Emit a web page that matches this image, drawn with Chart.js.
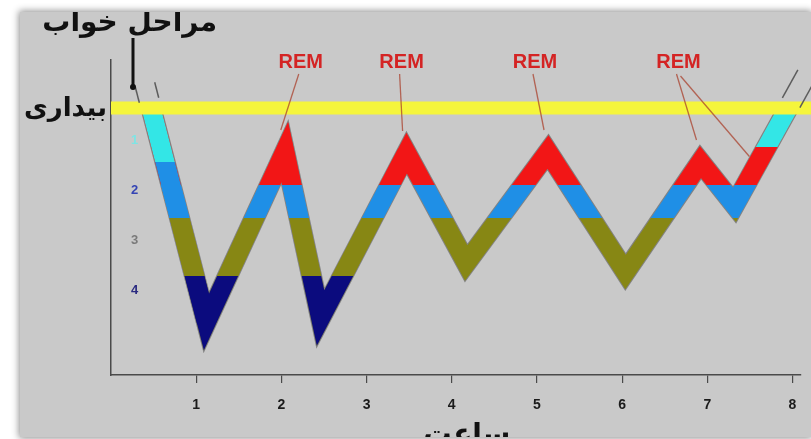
<!DOCTYPE html>
<html>
<head>
<meta charset="utf-8">
<script src="https://cdn.jsdelivr.net/npm/chart.js@4.4.1/dist/chart.umd.min.js"></script>
<style>
  html, body { margin: 0; padding: 0; background: #fff; width: 811px; height: 439px; overflow: hidden; }
  #panel {
    position: absolute; left: 20px; top: 12px; width: 791px; height: 425px;
    background: #c9c9c9; overflow: hidden;
    box-shadow: 0 0 7px 1px rgba(0, 0, 0, 0.45);
  }
  #chartBox { position: absolute; left: -20px; top: -12px; width: 811px; height: 439px; }
</style>
</head>
<body>
<div id="panel"><div id="chartBox"><canvas id="hypno" width="811" height="439"></canvas></div></div>
<script>
/* ==============================
   DATA
============================== */
const hours  = [0.47, 1.12, 2.04, 2.46, 3.47, 4.17, 5.13, 6.04, 6.92, 7.32, 7.95];
const stages = [0.36, 4.64, 1.24, 4.56, 1.26, 3.46, 1.24, 3.64, 1.44, 2.30, 0.36];
const awakeLevel = 0.36;

const hourTicks = [1, 2, 3, 4, 5, 6, 7, 8];
const stageTicks = [1, 2, 3, 4];
const stageTickLabels = ["1", "2", "3", "4"];

const remPeaks = [2, 4, 6, 8];   // index of each REM peak in hours/stages
const remText = "REM";
const deepEnd = 4;               // stage 4 only reached in the first two cycles

// stage borders (top -> bottom) for each piece of the curve
const sleepCuts = [1.9, 2.56];
const deepCuts  = [1.9, 2.56, 3.72];
const onsetCuts = [1.44, 2.56, 3.72];
const wakeCuts  = [1.14, 1.9];

/* ==============================
   COLOURS
============================== */
const RED = "#f21616", BLUE = "#1f8fe6", OLIVE = "#878714", NAVY = "#0b0b7e", CYAN = "#33e6e6";
const sleepColors = [RED, BLUE, OLIVE];
const deepColors  = [RED, BLUE, OLIVE, NAVY];
const onsetColors = [CYAN, BLUE, OLIVE, NAVY];
const wakeColors  = [CYAN, RED, BLUE];
const stageTickColors = ["#7ee4e4", "#3444b4", "#7a7a7a", "#2a2a80"];

function bandGradient(chart, cuts, colors) {
  const y = chart.scales.y;
  if (!chart.chartArea || !y) return colors[0];
  const h = chart.height;
  const g = chart.ctx.createLinearGradient(0, 0, 0, h);
  g.addColorStop(0, colors[0]);
  cuts.forEach((c, i) => {
    const p = Math.min(1, Math.max(0, y.getPixelForValue(c) / h));
    if (!isFinite(p)) return;
    g.addColorStop(p, colors[i]);
    g.addColorStop(p, colors[i + 1]);
  });
  g.addColorStop(1, colors[colors.length - 1]);
  return g;
}

const pts = hours.map((h, i) => ({ x: h, y: stages[i] }));

/* ==============================
   DECOR (REM labels, breaks, persian text)
============================== */
function drawBreak(ctx, x0, y0, x1, y1, d0, d1) {
  const len = Math.hypot(x1 - x0, y1 - y0);
  const ux = (x1 - x0) / len, uy = (y1 - y0) / len;
  const nx = -uy, ny = ux;
  ctx.strokeStyle = "#5c5c5c";
  ctx.lineWidth = 1.5;
  [-10, 10].forEach((s) => {
    ctx.beginPath();
    ctx.moveTo(x1 + ux * d0 + nx * s, y1 + uy * d0 + ny * s);
    ctx.lineTo(x1 + ux * d1 + nx * s, y1 + uy * d1 + ny * s);
    ctx.stroke();
  });
}

const decor = {
  id: "decor",
  afterDatasetsDraw(chart) {
    const { ctx, scales: { x, y } } = chart;
    const px = (i) => x.getPixelForValue(hours[i]);
    const py = (i) => y.getPixelForValue(stages[i]);
    const n = hours.length;

    ctx.save();
    drawBreak(ctx, px(1), py(1), px(0), py(0), 8, 24);
    drawBreak(ctx, px(n - 2), py(n - 2), px(n - 1), py(n - 1), 6, 38);

    // REM labels + leaders
    const labelShift = [16, -5, -13, -22];
    ctx.font = "bold 20px 'Liberation Sans', Arial, sans-serif";
    ctx.textAlign = "center";
    ctx.textBaseline = "middle";
    ctx.strokeStyle = "rgba(170, 64, 44, 0.75)";
    ctx.lineWidth = 1.3;
    remPeaks.forEach((idx, k) => {
      const lx = px(idx) + labelShift[k];
      ctx.beginPath();
      ctx.moveTo(lx - 2, 74);
      ctx.lineTo(px(idx) - 4, py(idx) - 22);
      ctx.stroke();
      if (k === remPeaks.length - 1) {
        // second leader to the last rising red part
        const mx = (px(n - 2) + px(n - 1)) / 2 - 12;
        const my = (py(n - 2) + py(n - 1)) / 2;
        ctx.beginPath();
        ctx.moveTo(lx + 2, 76);
        ctx.lineTo(mx, my);
        ctx.stroke();
      }
      ctx.fillStyle = "#d42424";
      ctx.fillText(remText, lx, 62);
    });
    ctx.restore();
  },
  afterDraw(chart) {
    const { ctx, chartArea } = chart;
    ctx.save();
    ctx.fillStyle = "#111";
    ctx.textBaseline = "alphabetic";
    ctx.font = "bold 28px 'DejaVu Sans', sans-serif";
    ctx.textAlign = "right";
    ctx.fillText("مراحل خواب", 217, 31);
    ctx.font = "bold 26px 'DejaVu Sans', sans-serif";
    ctx.fillText("بیداری", chartArea.left - 4, 116);
    ctx.font = "bold 28px 'DejaVu Sans', sans-serif";
    ctx.textAlign = "center";
    ctx.fillText("ساعت", 467, 443);

    // pointer from the title down to the wake line
    ctx.strokeStyle = "#111";
    ctx.lineWidth = 3;
    ctx.beginPath();
    ctx.moveTo(chartArea.left + 22, 38);
    ctx.lineTo(chartArea.left + 22, 87);
    ctx.stroke();
    ctx.beginPath();
    ctx.arc(chartArea.left + 22, 87, 3, 0, Math.PI * 2);
    ctx.fill();
    ctx.restore();
  }
};

/* ==============================
   CHART
============================== */
const bandLine = { borderWidth: 19, pointRadius: 0, tension: 0, borderJoinStyle: "miter", borderCapStyle: "butt", fill: false };

new Chart(document.getElementById("hypno").getContext("2d"), {
  type: "line",
  data: {
    datasets: [
      { label: "awake", data: [{ x: 0, y: awakeLevel }, { x: 8.3, y: awakeLevel }],
        borderColor: "#f5f53c", borderWidth: 13, pointRadius: 0, clip: false },
      { label: "wake", data: pts.slice(-2), ...bandLine,
        borderColor: (c) => bandGradient(c.chart, wakeCuts, wakeColors) },
      { label: "onset", data: pts.slice(0, 2), ...bandLine,
        borderColor: (c) => bandGradient(c.chart, onsetCuts, onsetColors) },
      { label: "deep", data: pts.slice(0, deepEnd + 1), ...bandLine,
        borderColor: (c) => bandGradient(c.chart, deepCuts, deepColors) },
      { label: "sleep", data: pts, ...bandLine,
        borderColor: (c) => bandGradient(c.chart, sleepCuts, sleepColors) },
      { label: "edge", data: pts, ...bandLine, borderWidth: 21, borderColor: "rgba(45, 45, 45, 0.45)" }
    ]
  },
  options: {
    responsive: false,
    animation: false,
    layout: { padding: { left: 111, top: 60, right: 10, bottom: 0 } },
    plugins: { legend: { display: false }, tooltip: { enabled: false } },
    scales: {
      x: {
        type: "linear", min: 0, max: 8.1,
        afterFit: (s) => { s.height = 64; },
        afterBuildTicks: (s) => { s.ticks = hourTicks.map((v) => ({ value: v })); },
        ticks: { color: "#1b1b1b", padding: 14, font: { family: "'Liberation Sans', Arial", weight: "bold", size: 14 } },
        grid: { drawOnChartArea: false, tickLength: 8, color: "#4a4a4a", lineWidth: 1.2 },
        border: { color: "#4a4a4a", width: 1.5 }
      },
      y: {
        type: "linear", reverse: true, min: -0.6, max: 5.7,
        afterFit: (s) => { s.width = 0; },
        afterBuildTicks: (s) => { s.ticks = stageTicks.map((v) => ({ value: v })); },
        ticks: {
          mirror: true, padding: 20,
          callback: (v, i) => stageTickLabels[i],
          color: (c) => stageTickColors[c.index],
          font: { family: "'Liberation Sans', Arial", weight: "bold", size: 13 }
        },
        grid: { display: false },
        border: { color: "#4a4a4a", width: 1.5 }
      }
    }
  },
  plugins: [decor]
});
</script>
</body>
</html>
